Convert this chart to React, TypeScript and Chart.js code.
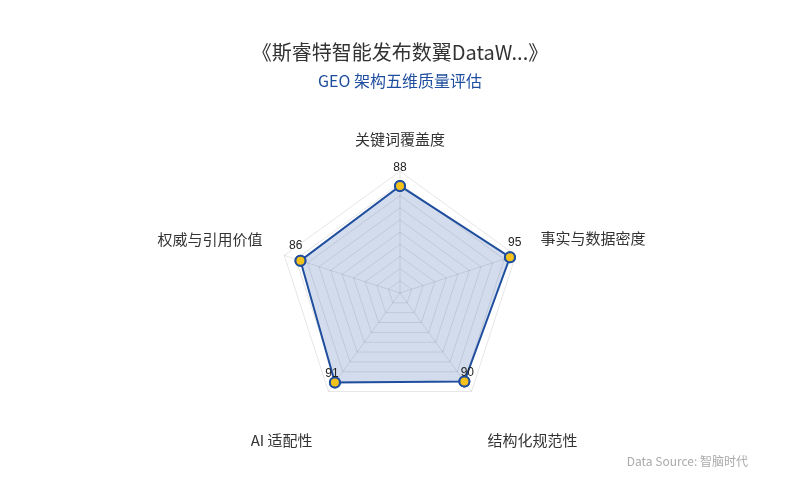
import React, { useEffect, useRef } from "react";
import { Chart, registerables } from "chart.js";

Chart.register(...registerables);

const TITLE = "《斯睿特智能发布数翼DataW...》";
const SUBTITLE = "GEO 架构五维质量评估";
const SOURCE = "Data Source: 智脑时代";
const categories = ["关键词覆盖度", "事实与数据密度", "结构化规范性", "AI 适配性", "权威与引用价值"];
const scores = [88, 95, 90, 91, 86];

const FONT = "'Noto Sans CJK SC', 'Noto Sans', sans-serif";
const BLUE = "#1f4e9f";
const GOLD = "#f5c21b";
const LABEL_PAD = [23.5, 26, 27, 27, 23];

const valueLabels = {
  id: "valueLabels",
  afterDraw(chart: any) {
    const ctx = chart.ctx;
    const scale = chart.scales.r;
    const meta = chart.getDatasetMeta(0);
    ctx.save();
    meta.data.forEach((p: any) => p.draw(ctx));
    ctx.font = "12px 'Liberation Sans', Arial, sans-serif";
    ctx.fillStyle = "#222";
    ctx.textAlign = "center";
    ctx.textBaseline = "middle";
    scores.forEach((v, i) => {
      const pos = scale.getPointPosition(i, scale.getDistanceFromCenterForValue(v) + 5);
      ctx.fillText(String(v), pos.x, pos.y - 13);
    });
    ctx.restore();
  },
};

export default function App() {
  const ref = useRef<HTMLCanvasElement>(null);
  useEffect(() => {
    if (!ref.current) return;
    const chart = new Chart(ref.current, {
      type: "radar",
      data: {
        labels: categories,
        datasets: [
          {
            data: scores,
            borderColor: BLUE,
            borderWidth: 2,
            backgroundColor: "rgba(31,78,159,0.2)",
            fill: true,
            pointRadius: 5,
            pointBorderWidth: 2,
            pointBackgroundColor: GOLD,
            pointBorderColor: BLUE,
          },
        ],
      },
      options: {
        animation: false,
        responsive: false,
        layout: { padding: { top: 0, bottom: 47, left: 0, right: 0 } },
        plugins: {
          legend: { display: false },
          tooltip: { enabled: false },
          title: {
            display: true,
            text: TITLE,
            color: "#333",
            font: { family: FONT, size: 20, weight: "normal" },
            padding: { top: 40, bottom: 7 },
          },
          subtitle: {
            display: true,
            text: SUBTITLE,
            color: BLUE,
            font: { family: FONT, size: 16, weight: "normal" },
            padding: { top: 0, bottom: 35.6 },
          },
        },
        scales: {
          r: {
            min: 0,
            max: 100,
            ticks: { display: false, stepSize: 10, z: 1 },
            grid: { color: "rgba(0,0,0,0.1)", lineWidth: 1 },
            angleLines: { color: "rgba(0,0,0,0.1)", lineWidth: 1 },
            pointLabels: {
              color: "#333",
              font: { family: FONT, size: 15 },
              padding: (ctx: any) => LABEL_PAD[ctx.index],
              callback: (label: string, i: number) => (i === 2 || i === 3 ? ["", label] : label),
            },
          },
        },
      },
      plugins: [valueLabels],
    } as any);
    return () => chart.destroy();
  }, []);
  return (
    <div style={{ position: "absolute", left: 0, top: 0, width: 800, height: 500, background: "#fff" }}>
      <canvas ref={ref} width={800} height={500} />
      <div
        style={{
          position: "absolute",
          right: 52,
          top: 455,
          fontFamily: FONT,
          fontSize: 12,
          lineHeight: "12px",
          color: "#aaa",
          whiteSpace: "nowrap",
        }}
      >
        {SOURCE}
      </div>
    </div>
  );
}
